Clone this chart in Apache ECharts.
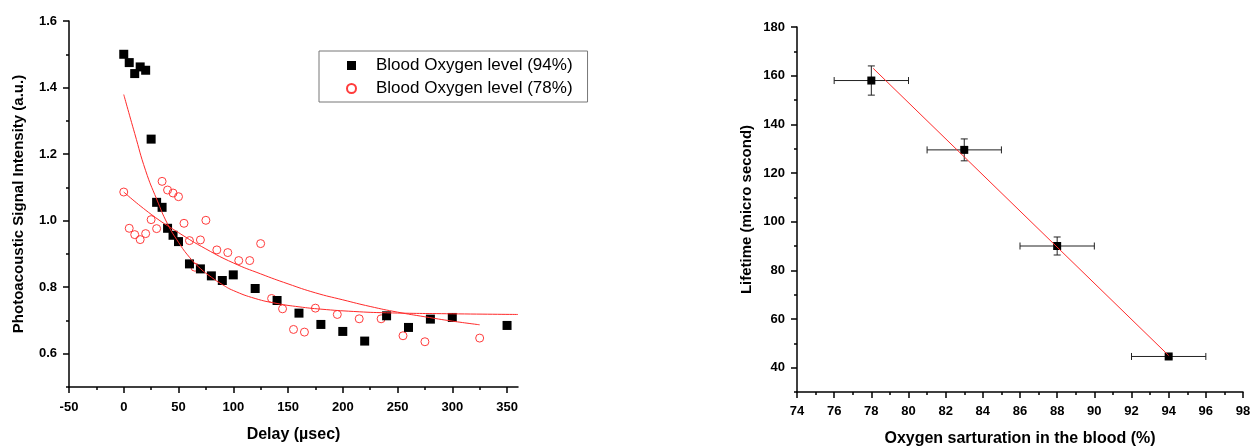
<!DOCTYPE html>
<html>
<head>
<meta charset="utf-8">
<script src="https://cdn.jsdelivr.net/npm/echarts@6/dist/echarts.min.js"></script>
<style>
html, body { margin: 0; padding: 0; background: #fff; }
#chart { width: 1251px; height: 446px; }
</style>
</head>
<body>
<div id="chart"></div>
<script>
// 左图：光声信号 vs 延时
var delay94 = [0, 5, 10, 15, 20, 25, 30, 35, 40, 45, 50, 60, 70, 80, 90, 100, 120, 140, 160, 180, 200, 220, 240, 260, 280, 300, 350];
var signal94 = [1.500, 1.475, 1.442, 1.462, 1.452, 1.245, 1.055, 1.040, 0.977, 0.956, 0.937, 0.870, 0.855, 0.834, 0.820, 0.837, 0.796, 0.760, 0.722, 0.688, 0.667, 0.638, 0.714, 0.679, 0.704, 0.709, 0.685];
var delay78 = [0, 5, 10, 15, 20, 25, 30, 35, 40, 45, 50, 55, 60, 65, 70, 75, 85, 95, 105, 115, 125, 135, 145, 155, 165, 175, 195, 215, 235, 255, 275, 325];
var signal78 = [1.086, 0.977, 0.958, 0.943, 0.961, 1.003, 0.976, 1.118, 1.092, 1.083, 1.072, 0.992, 0.940, 0.860, 0.942, 1.001, 0.912, 0.904, 0.880, 0.880, 0.931, 0.766, 0.735, 0.673, 0.665, 0.737, 0.718, 0.705, 0.705, 0.654, 0.636, 0.647];
// 拟合曲线
var fit94X = [0, 10, 20, 30, 40, 50, 60, 70, 80, 90, 100, 120, 140, 160, 180, 210, 240, 300, 360];
var fit94Y = [1.379, 1.262, 1.150, 1.065, 0.990, 0.935, 0.890, 0.856, 0.830, 0.808, 0.790, 0.766, 0.751, 0.741, 0.734, 0.727, 0.723, 0.720, 0.718];
var fit78X = [0, 25, 50, 75, 100, 125, 150, 175, 200, 225, 250, 275, 300, 325];
var fit78Y = [1.086, 1.019, 0.964, 0.915, 0.873, 0.840, 0.810, 0.783, 0.762, 0.742, 0.725, 0.711, 0.698, 0.687];
var leftXTicks = [-50, 0, 50, 100, 150, 200, 250, 300, 350];
var leftYTicks = [0.6, 0.8, 1.0, 1.2, 1.4, 1.6];

// 右图：寿命 vs 血氧饱和度
var oxygen = [78, 83, 88, 94];
var lifetime = [158, 129.5, 90, 44.6];
var oxygenErr = [2, 2, 2, 2];
var lifetimeErr = [6, 4.5, 3.7, 0.8];
var fitOxygen = [78.1, 94];
var fitLifetime = [163, 45];
var rightXTicks = [74, 76, 78, 80, 82, 84, 86, 88, 90, 92, 94, 96, 98];
var rightYTicks = [40, 60, 80, 100, 120, 140, 160, 180];

var FONT = 'Liberation Sans, Arial, sans-serif';

function pairs(xs, ys) {
    return xs.map(function (x, i) { return [x, ys[i]]; });
}
// 次刻度：主刻度之间取中点
function minorTicks(ticks, lo, hi) {
    var step = (ticks[1] - ticks[0]) / 2;
    var out = [];
    for (var v = ticks[0] - step; v <= hi + 1e-9; v += step) {
        if (v >= lo - 1e-9) out.push(+v.toFixed(4));
    }
    return out;
}

// 主轴：轴线 + 标签
function labelAxis(dim, gridIndex, min, max, ticks, name, opt) {
    return {
        type: 'value', gridIndex: gridIndex, min: min, max: max,
        position: dim === 'x' ? 'bottom' : 'left',
        name: name, nameLocation: 'middle', nameGap: opt.nameGap,
        nameTextStyle: { fontFamily: FONT, fontSize: opt.nameSize, fontWeight: 'bold', color: '#000' },
        axisLine: { show: true, onZero: false, lineStyle: { color: '#000', width: 1.5 } },
        axisTick: { show: false },
        axisLabel: { customValues: ticks, margin: opt.margin, fontFamily: FONT, fontSize: 13, fontWeight: 'bold', color: '#000', formatter: opt.fmt },
        splitLine: { show: false }
    };
}
// 刻度轴：只画刻度
function tickAxis(dim, gridIndex, min, max, ticks, len) {
    return {
        type: 'value', gridIndex: gridIndex, min: min, max: max,
        position: dim === 'x' ? 'bottom' : 'left',
        axisLine: { show: false, onZero: false },
        axisTick: { show: true, length: len, customValues: ticks, lineStyle: { color: '#000', width: 1.5 } },
        axisLabel: { show: false },
        splitLine: { show: false }
    };
}

function renderErr(params, api) {
    var x = api.value(0), y = api.value(1), ex = api.value(2), ey = api.value(3);
    var l = api.coord([x - ex, y]), r = api.coord([x + ex, y]);
    var t = api.coord([x, y + ey]), b = api.coord([x, y - ey]);
    var cap = 3.5;
    var st = { stroke: '#222', lineWidth: 1 };
    return {
        type: 'group',
        children: [
            { type: 'line', shape: { x1: l[0], y1: l[1], x2: r[0], y2: r[1] }, style: st },
            { type: 'line', shape: { x1: l[0], y1: l[1] - cap, x2: l[0], y2: l[1] + cap }, style: st },
            { type: 'line', shape: { x1: r[0], y1: r[1] - cap, x2: r[0], y2: r[1] + cap }, style: st },
            { type: 'line', shape: { x1: t[0], y1: t[1], x2: b[0], y2: b[1] }, style: st },
            { type: 'line', shape: { x1: t[0] - cap, y1: t[1], x2: t[0] + cap, y2: t[1] }, style: st },
            { type: 'line', shape: { x1: b[0] - cap, y1: b[1], x2: b[0] + cap, y2: b[1] }, style: st }
        ]
    };
}

var myChart = echarts.init(document.getElementById('chart'));
myChart.setOption({
    animation: false,
    backgroundColor: '#fff',
    grid: [
        { left: 69, top: 21, width: 449, height: 366, outerBoundsMode: 'none', containLabel: false },
        { left: 797, top: 27, width: 446, height: 365, outerBoundsMode: 'none', containLabel: false }
    ],
    legend: {
        data: ['Blood Oxygen level (94%)', 'Blood Oxygen level (78%)'],
        orient: 'vertical',
        left: 319, top: 51,
        padding: [6, 15, 5, 27],
        itemGap: 6,
        itemWidth: 9, itemHeight: 9,
        borderColor: '#777', borderWidth: 1,
        textStyle: { fontFamily: FONT, fontSize: 17, color: '#000', padding: [0, 0, 0, 15] }
    },
    xAxis: [
        labelAxis('x', 0, -50, 360, leftXTicks, 'Delay (\u00b5sec)', { nameGap: 40, nameSize: 16, margin: 14 }),
        tickAxis('x', 0, -50, 360, leftXTicks, 6),
        tickAxis('x', 0, -50, 360, minorTicks(leftXTicks, -50, 360), 3),
        labelAxis('x', 1, 74, 98, rightXTicks, 'Oxygen sarturation in the blood (%)', { nameGap: 39, nameSize: 16, margin: 13 }),
        tickAxis('x', 1, 74, 98, rightXTicks, 6),
        tickAxis('x', 1, 74, 98, minorTicks(rightXTicks, 74, 98), 3)
    ],
    yAxis: [
        labelAxis('y', 0, 0.5, 1.6, leftYTicks, 'Photoacoustic Signal Intensity (a.u.)', { nameGap: 43, nameSize: 15, margin: 12, fmt: function (v) { return v.toFixed(1); } }),
        tickAxis('y', 0, 0.5, 1.6, leftYTicks, 6),
        tickAxis('y', 0, 0.5, 1.6, minorTicks(leftYTicks, 0.5, 1.6), 3),
        labelAxis('y', 1, 30, 180, rightYTicks, 'Lifetime (micro second)', { nameGap: 43, nameSize: 15, margin: 12 }),
        tickAxis('y', 1, 30, 180, rightYTicks, 6),
        tickAxis('y', 1, 30, 180, minorTicks(rightYTicks, 30, 180), 3)
    ],
    series: [
        {
            name: 'Blood Oxygen level (78%)', type: 'scatter', xAxisIndex: 0, yAxisIndex: 0,
            symbol: 'circle', symbolSize: 8,
            itemStyle: { color: 'rgba(255,255,255,0)', borderColor: '#ff3c3c', borderWidth: 1, opacity: 1 },
            data: pairs(delay78, signal78)
        },
        {
            name: 'Blood Oxygen level (94%)', type: 'scatter', xAxisIndex: 0, yAxisIndex: 0,
            symbol: 'rect', symbolSize: 9,
            itemStyle: { color: '#000', opacity: 1 },
            data: pairs(delay94, signal94)
        },
        {
            name: 'fit94', type: 'line', xAxisIndex: 0, yAxisIndex: 0, smooth: true, symbol: 'none',
            lineStyle: { color: '#ff2a2a', width: 1 },
            data: pairs(fit94X, fit94Y)
        },
        {
            name: 'fit78', type: 'line', xAxisIndex: 0, yAxisIndex: 0, smooth: true, symbol: 'none',
            lineStyle: { color: '#ff2a2a', width: 1 },
            data: pairs(fit78X, fit78Y)
        },
        {
            name: 'errors', type: 'custom', xAxisIndex: 3, yAxisIndex: 3,
            renderItem: renderErr,
            encode: { x: 0, y: 1 },
            data: oxygen.map(function (x, i) { return [x, lifetime[i], oxygenErr[i], lifetimeErr[i]]; })
        },
        {
            name: 'lifetime', type: 'scatter', xAxisIndex: 3, yAxisIndex: 3,
            symbol: 'rect', symbolSize: 8,
            itemStyle: { color: '#000', opacity: 1 },
            data: pairs(oxygen, lifetime)
        },
        {
            name: 'fitLifetime', type: 'line', xAxisIndex: 3, yAxisIndex: 3, symbol: 'none',
            lineStyle: { color: '#ff2a2a', width: 1 },
            data: pairs(fitOxygen, fitLifetime)
        }
    ]
});
</script>
</body>
</html>
